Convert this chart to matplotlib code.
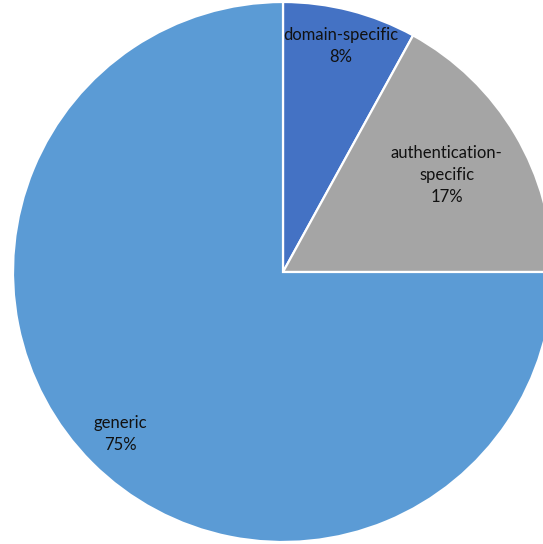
import numpy as np
import matplotlib.pyplot as plt

categories = ['domain-specific', 'authentication-\nspecific', 'generic']
shares = [8, 17, 75]
colors = ['#4472C4', '#A5A5A5', '#5B9BD5']
label_dist = [0.865, 0.705, 0.85]  # fraction of radius where each label sits

plt.rcParams['font.family'] = ['Lato', 'DejaVu Sans']

fig = plt.figure(figsize=(5.43, 5.44), dpi=100)
ax = fig.add_axes([0, 0, 1, 1])
center = (283, 272)
radius = 270
wedges, _ = ax.pie(shares, colors=colors, startangle=90, counterclock=False,
                   center=center, radius=radius,
                   wedgeprops=dict(edgecolor='white', linewidth=1.6))

for w, name, val, d in zip(wedges, categories, shares, label_dist):
    mid = np.deg2rad((w.theta1 + w.theta2) / 2)
    x = center[0] + d * radius * np.cos(mid)
    y = center[1] + d * radius * np.sin(mid)
    ax.text(x, y, '%s\n%d%%' % (name, val), ha='center', va='center',
            fontsize=12, color='#111111', linespacing=1.45)

ax.set_xlim(0, 543)
ax.set_ylim(0, 544)
ax.set_aspect('equal')
ax.axis('off')
fig.savefig('out.png', dpi=100)
